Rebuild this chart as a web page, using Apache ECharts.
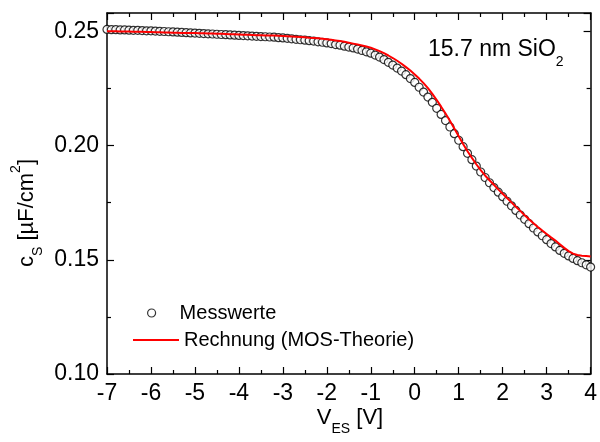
<!DOCTYPE html>
<html>
<head>
<meta charset="utf-8">
<script src="https://cdn.jsdelivr.net/npm/echarts@6/dist/echarts.min.js"></script>
<style>html,body{margin:0;padding:0;background:#fff}#c{width:600px;height:442px}</style>
</head>
<body>
<div id="c"></div>
<script>
const voltage = [-7.0,-6.9,-6.8,-6.7,-6.6,-6.5,-6.4,-6.3,-6.2,-6.1,-6.0,-5.9,-5.8,-5.7,-5.6,-5.5,-5.4,-5.3,-5.2,-5.1,-5.0,-4.9,-4.8,-4.7,-4.6,-4.5,-4.4,-4.3,-4.2,-4.1,-4.0,-3.9,-3.8,-3.7,-3.6,-3.5,-3.4,-3.3,-3.2,-3.1,-3.0,-2.9,-2.8,-2.7,-2.6,-2.5,-2.4,-2.3,-2.2,-2.1,-2.0,-1.9,-1.8,-1.7,-1.6,-1.5,-1.4,-1.3,-1.2,-1.1,-1.0,-0.9,-0.8,-0.7,-0.6,-0.5,-0.4,-0.3,-0.2,-0.1,0.0,0.1,0.2,0.3,0.4,0.5,0.6,0.7,0.8,0.9,1.0,1.1,1.2,1.3,1.4,1.5,1.6,1.7,1.8,1.9,2.0,2.1,2.2,2.3,2.4,2.5,2.6,2.7,2.8,2.9,3.0,3.1,3.2,3.3,3.4,3.5,3.6,3.7,3.8,3.9,4.0];
const messwerte = [0.2508,0.2507,0.2507,0.2506,0.2506,0.2505,0.2504,0.2504,0.2503,0.2502,0.2502,0.2501,0.2500,0.2499,0.2498,0.2497,0.2496,0.2495,0.2494,0.2493,0.2492,0.2491,0.2490,0.2489,0.2488,0.2487,0.2486,0.2485,0.2484,0.2483,0.2482,0.2481,0.2480,0.2479,0.2478,0.2477,0.2476,0.2475,0.2474,0.2472,0.2471,0.2469,0.2467,0.2465,0.2463,0.2461,0.2459,0.2457,0.2454,0.2452,0.2449,0.2446,0.2442,0.2439,0.2435,0.2431,0.2427,0.2422,0.2416,0.2410,0.2404,0.2396,0.2387,0.2376,0.2364,0.2352,0.2339,0.2326,0.2310,0.2293,0.2276,0.2255,0.2234,0.2212,0.2189,0.2163,0.2136,0.2109,0.2081,0.2052,0.2023,0.1995,0.1966,0.1938,0.1910,0.1884,0.1860,0.1837,0.1816,0.1796,0.1776,0.1756,0.1736,0.1716,0.1696,0.1677,0.1658,0.1639,0.1622,0.1605,0.1588,0.1571,0.1556,0.1541,0.1528,0.1517,0.1506,0.1496,0.1487,0.1478,0.1468];
const rechnung = [0.2500,0.2500,0.2500,0.2499,0.2499,0.2499,0.2498,0.2498,0.2498,0.2497,0.2497,0.2496,0.2496,0.2495,0.2495,0.2494,0.2494,0.2493,0.2493,0.2492,0.2492,0.2491,0.2491,0.2490,0.2490,0.2489,0.2489,0.2488,0.2487,0.2487,0.2486,0.2485,0.2485,0.2484,0.2483,0.2483,0.2482,0.2481,0.2481,0.2480,0.2479,0.2478,0.2477,0.2476,0.2475,0.2474,0.2472,0.2471,0.2469,0.2467,0.2465,0.2463,0.2460,0.2457,0.2454,0.2450,0.2446,0.2442,0.2438,0.2433,0.2428,0.2421,0.2413,0.2404,0.2394,0.2383,0.2371,0.2358,0.2343,0.2328,0.2311,0.2293,0.2273,0.2251,0.2226,0.2199,0.2170,0.2140,0.2108,0.2075,0.2041,0.2007,0.1975,0.1946,0.1918,0.1892,0.1869,0.1848,0.1828,0.1808,0.1789,0.1770,0.1751,0.1732,0.1714,0.1695,0.1677,0.1660,0.1643,0.1628,0.1613,0.1598,0.1584,0.1568,0.1552,0.1538,0.1527,0.1521,0.1518,0.1516,0.1514];
const seriesNames = ['Messwerte', 'Rechnung (MOS-Theorie)'];
const annotation = '15.7 nm SiO';

const FONT = '"Liberation Sans", Arial, sans-serif';
const chart = echarts.init(document.getElementById('c'), null, {renderer: 'canvas'});
const axLine = {show: true, onZero: false, lineStyle: {color: '#000', width: 1.5}};
const xCommon = {
  type: 'value', min: -7, max: 4, interval: 1,
  axisLine: axLine,
  axisTick: {show: true, inside: true, length: 7, lineStyle: {color: '#000', width: 1.2}},
  minorTick: {show: true, splitNumber: 2, length: 4, lineStyle: {color: '#000', width: 1.2}},
  splitLine: {show: false}, minorSplitLine: {show: false}
};
const yCommon = {
  type: 'value', min: 0.10, max: 0.258, interval: 0.05,
  axisLine: axLine,
  axisTick: {show: true, inside: true, length: 7, lineStyle: {color: '#000', width: 1.2}},
  minorTick: {show: true, splitNumber: 2, length: 4, lineStyle: {color: '#000', width: 1.2}},
  splitLine: {show: false}, minorSplitLine: {show: false}
};
const pairs = (ys) => voltage.map((v, i) => [v, ys[i]]);
const legendText = {color: '#000', fontSize: 20, fontFamily: FONT};
chart.setOption({
  animation: false,
  backgroundColor: '#fff',
  grid: {left: 107, right: 7, top: 13, bottom: 68, containLabel: false},
  xAxis: [
    Object.assign({}, xCommon, {position: 'bottom',
      axisLabel: {show: true, color: '#000', fontSize: 23, fontFamily: FONT, margin: 8}}),
    Object.assign({}, xCommon, {position: 'top', axisLabel: {show: false}})
  ],
  yAxis: [
    Object.assign({}, yCommon, {position: 'left',
      axisLabel: {show: true, color: '#000', fontSize: 23, fontFamily: FONT, margin: 8, showMaxLabel: false,
        formatter: (v) => (Math.abs(v / 0.05 - Math.round(v / 0.05)) < 1e-6 ? v.toFixed(2) : '')}}),
    Object.assign({}, yCommon, {position: 'right', axisLabel: {show: false}})
  ],
  legend: [
    {left: 142, top: 298, itemGap: 0, itemWidth: 46, itemHeight: 8, textStyle: legendText,
      data: [{name: seriesNames[0], icon: 'circle', itemStyle: {color: '#fff', borderColor: '#000', borderWidth: 1.2}}]},
    {left: 128, top: 325, itemGap: 0, itemWidth: 46, itemHeight: 2, textStyle: legendText,
      data: [{name: seriesNames[1], icon: 'rect', itemStyle: {color: '#ff0000', borderWidth: 0}}]}
  ],
  series: [
    {name: seriesNames[0], type: 'scatter', data: pairs(messwerte), symbol: 'circle', symbolSize: 8,
      itemStyle: {color: '#fff', borderColor: '#000', borderWidth: 1.2}, z: 2},
    {name: seriesNames[1], type: 'line', data: pairs(rechnung), symbol: 'none', showSymbol: false,
      lineStyle: {color: '#ff0000', width: 2}, itemStyle: {color: '#ff0000'}, z: 3}
  ],
  graphic: [
    {type: 'text', x: 350, y: 418, style: {
      text: '{a|V}{s|ES}{a| [V]}', align: 'center', verticalAlign: 'middle', fontFamily: FONT,
      rich: {a: {fontSize: 22, fontFamily: FONT, lineHeight: 36, verticalAlign: 'middle', fill: '#000'},
             s: {fontSize: 14, fontFamily: FONT, lineHeight: 14, verticalAlign: 'bottom', fill: '#000'}}}},
    {type: 'text', x: 27, y: 213, rotation: Math.PI / 2, style: {
      text: '{a|c}{s|S}{a| [µF/cm}{p|2}{a|]}', align: 'center', verticalAlign: 'middle', fontFamily: FONT,
      rich: {a: {fontSize: 22, fontFamily: FONT, lineHeight: 36, verticalAlign: 'middle', fill: '#000'},
             s: {fontSize: 14, fontFamily: FONT, lineHeight: 14, verticalAlign: 'bottom', fill: '#000'},
             p: {fontSize: 14, fontFamily: FONT, lineHeight: 14, verticalAlign: 'top', fill: '#000'}}}},
    {type: 'text', x: 428, y: 50, style: {
      text: '{a|' + annotation + '}{s|2}', align: 'left', verticalAlign: 'middle', fontFamily: FONT,
      rich: {a: {fontSize: 23, fontFamily: FONT, lineHeight: 38, verticalAlign: 'middle', fill: '#000'},
             s: {fontSize: 14, fontFamily: FONT, lineHeight: 14, verticalAlign: 'bottom', fill: '#000'}}}}
  ]
});
</script>
</body>
</html>
